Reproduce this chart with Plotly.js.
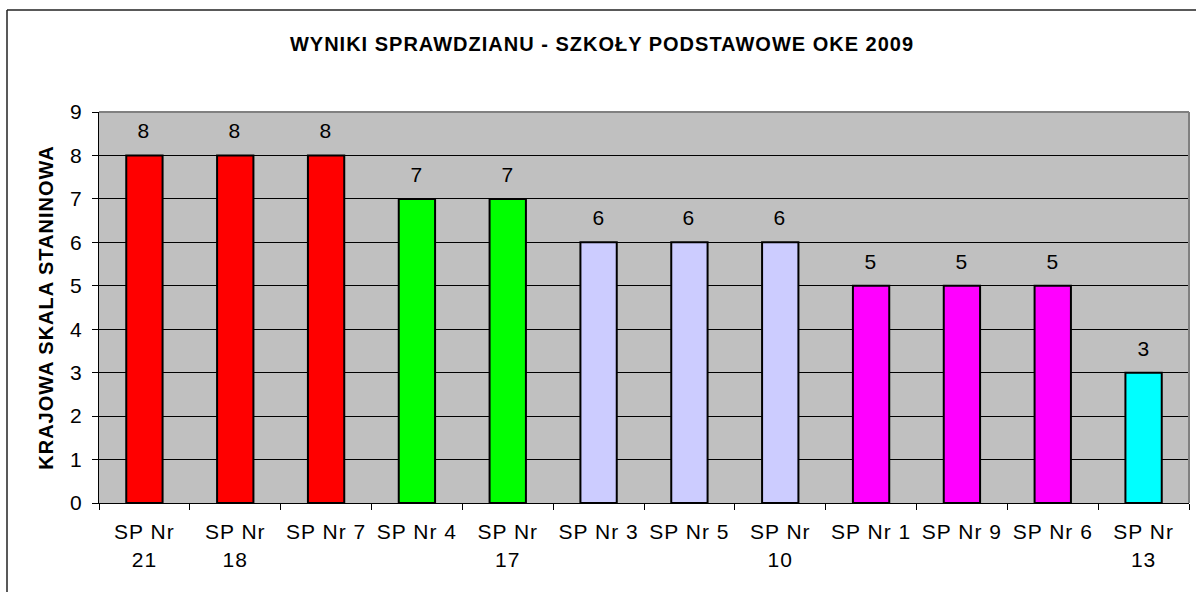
<!DOCTYPE html>
<html>
<head>
<meta charset="utf-8">
<script src="https://cdn.plot.ly/plotly-3.0.1.min.js"></script>
<style>
html,body{margin:0;padding:0;background:#fff;}
#chart{width:1196px;height:592px;}
#chart .xtick text, #chart .ytick text, #chart .annotation-text, #chart .gtitle, #chart .ytitle { letter-spacing: 1px; }
</style>
</head>
<body>
<div id="chart"></div>
<script>
var categories = ["SP Nr<br>21", "SP Nr<br>18", "SP Nr 7", "SP Nr 4", "SP Nr<br>17", "SP Nr 3", "SP Nr 5", "SP Nr<br>10", "SP Nr 1", "SP Nr 9", "SP Nr 6", "SP Nr<br>13"];
var values = [8, 8, 8, 7, 7, 6, 6, 6, 5, 5, 5, 3];
var barColors = ["#FF0000", "#FF0000", "#FF0000", "#00FF00", "#00FF00", "#CCCCFF", "#CCCCFF", "#CCCCFF", "#FF00FF", "#FF00FF", "#FF00FF", "#00FFFF"];
var yTicks = [0, 1, 2, 3, 4, 5, 6, 7, 8, 9];

var font = "Liberation Sans, Arial, sans-serif";

var trace = {
  type: "bar",
  x: categories,
  y: values,
  marker: {color: barColors, line: {color: "#000000", width: 2}},
  hoverinfo: "none"
};

var annotations = categories.map(function (c, i) {
  return {
    x: c, y: values[i], xref: "x", yref: "y",
    text: String(values[i]), showarrow: false,
    yanchor: "bottom", yshift: 11,
    font: {family: font, size: 21, color: "#000"}
  };
});

var layout = {
  width: 1196, height: 592,
  margin: {l: 99, r: 7, t: 112, b: 89, pad: 0},
  paper_bgcolor: "#FFFFFF",
  plot_bgcolor: "#C0C0C0",
  bargap: 0.6,
  showlegend: false,
  title: {
    text: "<b>WYNIKI SPRAWDZIANU - SZKOŁY PODSTAWOWE OKE 2009</b>",
    font: {family: font, size: 20, color: "#000"},
    x: 602 / 1196, xanchor: "center", xref: "container",
    y: 1 - 44 / 592, yref: "container", yanchor: "middle"
  },
  xaxis: {
    type: "category",
    showline: true, linecolor: "#000", linewidth: 1,
    ticks: "outside", tickson: "boundaries", ticklen: 6, tickcolor: "#000",
    ticklabelstandoff: 10,
    showgrid: false,
    tickfont: {family: font, size: 21, color: "#000"},
    fixedrange: true
  },
  yaxis: {
    range: [0, 9],
    tickvals: yTicks,
    showline: true, linecolor: "#000", linewidth: 1,
    ticks: "outside", ticklen: 6, tickcolor: "#000",
    ticklabelstandoff: 5,
    showgrid: true, gridcolor: "#000", gridwidth: 1,
    zeroline: false,
    tickfont: {family: font, size: 21, color: "#000"},
    title: {text: "<b>KRAJOWA SKALA STANINOWA</b>", font: {family: font, size: 20, color: "#000"}, standoff: 12},
    fixedrange: true
  },
  annotations: annotations,
  shapes: [
    {type: "line", xref: "paper", yref: "paper", x0: 0, x1: 1, y0: 1, y1: 1, line: {color: "#808080", width: 2}},
    {type: "line", xref: "paper", yref: "paper", x0: 1, x1: 1, y0: 0, y1: 1, line: {color: "#808080", width: 2}},
    {type: "line", xref: "paper", yref: "paper", x0: -92/1090, x1: 1.2, y0: 1 + 102/391, y1: 1 + 102/391, line: {color: "#222", width: 1.5}, layer: "above"},
    {type: "line", xref: "paper", yref: "paper", x0: -92/1090, x1: -92/1090, y0: -0.5, y1: 1 + 102/391, line: {color: "#222", width: 1.5}, layer: "above"}
  ]
};

Plotly.newPlot("chart", [trace], layout, {displayModeBar: false, staticPlot: true});
</script>
</body>
</html>
